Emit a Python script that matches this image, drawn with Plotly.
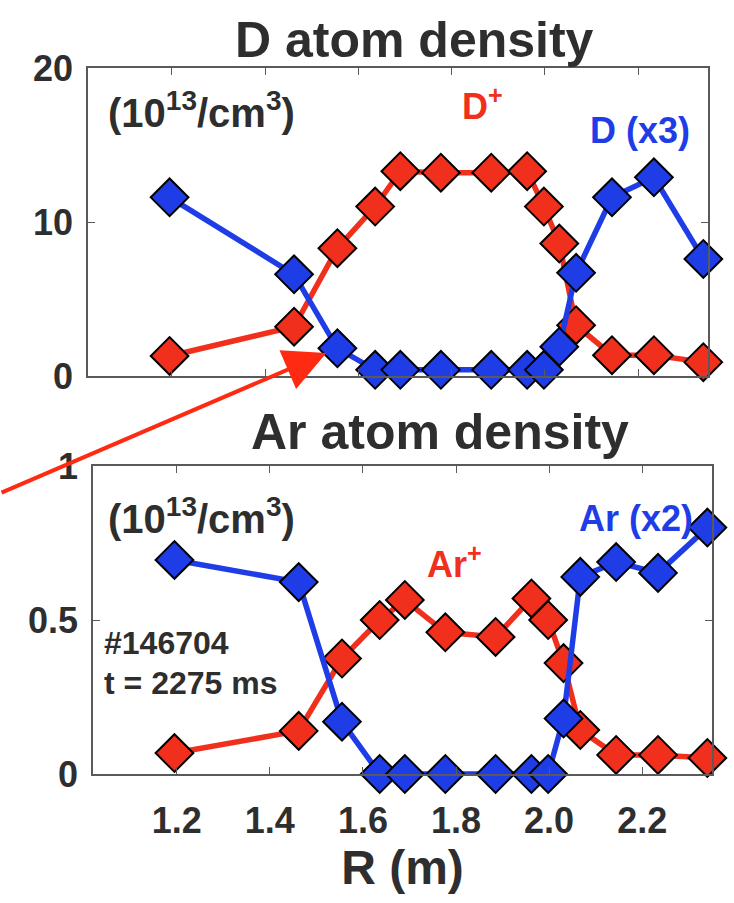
import plotly.graph_objects as go

# Major radius of the measurement chords (m)
R = [1.195, 1.462, 1.555, 1.636, 1.69, 1.777, 1.885, 1.962, 1.998, 2.031, 2.067, 2.144, 2.234, 2.34]

# Deuterium (10^13 / cm^3)
d_ion = [1.3, 3.2, 8.3, 11.0, 13.3, 13.2, 13.2, 13.3, 11.0, 8.6, 3.3, 1.35, 1.35, 0.9]
d_atom_x3 = [11.6, 6.6, 1.8, 0.4, 0.4, 0.4, 0.4, 0.4, 0.4, 1.9, 6.7, 11.6, 12.9, 7.6]

# Argon (10^13 / cm^3)
ar_ion = [0.068, 0.14, 0.375, 0.50, 0.565, 0.46, 0.445, 0.57, 0.50, 0.36, 0.143, 0.062, 0.062, 0.052]
ar_atom_x2 = [0.695, 0.623, 0.17, 0.0, 0.0, 0.0, 0.0, 0.0, 0.0, 0.18, 0.64, 0.688, 0.653, 0.80]

x_ticks = [1.2, 1.4, 1.6, 1.8, 2.0, 2.2]
y_ticks_d = [0, 10, 20]
y_ticks_ar = [0, 0.5, 1]
y_ticklabels_ar = ["0", "0.5", "1"]

RED = "#F0301C"
BLUE = "#1E3DE6"
TEXT = "#2E2E2E"
FONT = "Liberation Sans, Arial, sans-serif"

W, H = 734, 903


def px(x):
    return x / W


def py(y):
    return 1 - y / H


def series(x, y, color, xa, ya):
    return go.Scatter(
        x=x, y=y, mode="lines+markers", xaxis=xa, yaxis=ya,
        line=dict(color=color, width=5.5),
        marker=dict(symbol="diamond", size=29, color=color,
                    line=dict(color="black", width=2)),
        cliponaxis=False, showlegend=False, hoverinfo="skip",
    )


fig = go.Figure()
fig.add_trace(series(R, d_ion, RED, "x", "y"))
fig.add_trace(series(R, d_atom_x3, BLUE, "x", "y"))
fig.add_trace(series(R, ar_ion, RED, "x2", "y2"))
fig.add_trace(series(R, ar_atom_x2, BLUE, "x2", "y2"))

axis_common = dict(
    showline=True, linecolor="#5A5A5A", linewidth=1.5, mirror="ticks",
    ticks="inside", ticklen=7, tickwidth=1.2, tickcolor="#5A5A5A",
    showgrid=False, zeroline=False, automargin=False,
    tickfont=dict(family=FONT, size=36, color=TEXT, weight="bold"),
)

fig.update_layout(
    width=W, height=H, margin=dict(l=0, r=0, t=0, b=0, autoexpand=False),
    paper_bgcolor="white", plot_bgcolor="white",
    xaxis=dict(domain=[px(88), px(708)], range=[1.02, 2.35], anchor="y",
               tickvals=x_ticks, showticklabels=False, **axis_common),
    yaxis=dict(domain=[py(376), py(68)], range=[0, 20], anchor="x",
               tickvals=y_ticks_d, ticklabelstandoff=6, **axis_common),
    xaxis2=dict(domain=[px(93), px(712)], range=[1.02, 2.35], anchor="y2",
                tickvals=x_ticks, tickformat=".1f", ticklabelstandoff=14,
                title=dict(text="<b>R (m)</b>", standoff=2,
                           font=dict(family=FONT, size=48, color=TEXT)),
                **axis_common),
    yaxis2=dict(domain=[py(774), py(466)], range=[0, 1], anchor="x2",
                tickvals=y_ticks_ar, ticktext=y_ticklabels_ar,
                ticklabelstandoff=6, **axis_common),
)


def label(text, x, y, size, color=TEXT, xanchor="center", yanchor="middle"):
    fig.add_annotation(
        text=f"<b>{text}</b>",
        x=px(x), y=py(y), xref="paper", yref="paper",
        xanchor=xanchor, yanchor=yanchor, showarrow=False,
        font=dict(family=FONT, size=size, color=color),
    )


# Panel titles
label("D atom density", 414, 40, 50)
label("Ar atom density", 440, 432, 50)

# Units and species labels
label("(10<sup>13</sup>/cm<sup>3</sup>)", 201, 110, 40)
label("(10<sup>13</sup>/cm<sup>3</sup>)", 201, 516, 40)
label("D<sup>+</sup>", 482, 104, 36, RED)
label("D (x3)", 640, 130, 36, BLUE)
label("Ar<sup>+</sup>", 454, 562, 36, RED)
label("Ar (x2)", 636, 518, 36, BLUE)
label("#146704", 102, 663, 32, xanchor="left", yanchor="bottom")
label("t = 2275 ms", 102, 663, 32, xanchor="left", yanchor="top")

# Arrow pointing at the neutral D point on the inner edge
fig.add_annotation(
    x=R[2], y=d_atom_x3[2], xref="x", yref="y", text="",
    showarrow=True, arrowhead=2, arrowsize=2.1, arrowwidth=4,
    arrowcolor="#FF2A12", ax=-350, ay=145, standoff=12,
)

fig.write_html("out.html")
